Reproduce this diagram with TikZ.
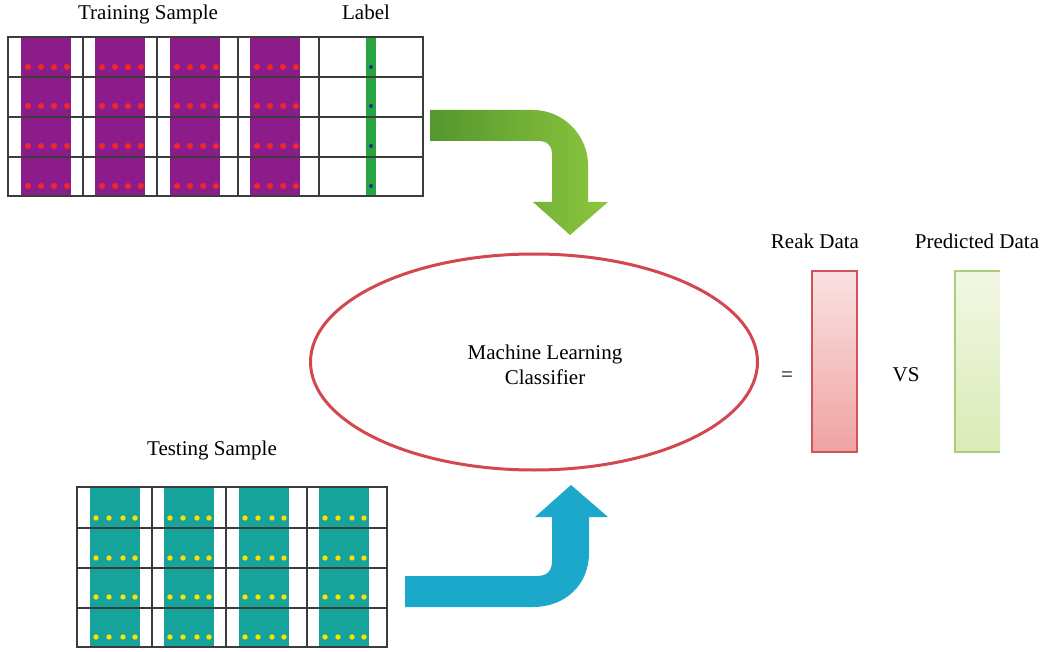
\documentclass[tikz,border=0pt]{standalone}
\usepackage{fontspec}
\setmainfont{Liberation Serif}
\usetikzlibrary{shapes.geometric}
\definecolor{gridc}{RGB}{60,60,60}
\definecolor{purp}{RGB}{139,28,137}
\definecolor{reddot}{RGB}{240,40,45}
\definecolor{labgreen}{RGB}{40,165,65}
\definecolor{bluedot}{RGB}{30,50,140}
\definecolor{tealc}{RGB}{22,163,156}
\definecolor{yel}{RGB}{255,225,0}
\definecolor{arrgA}{RGB}{85,150,45}
\definecolor{arrgB}{RGB}{140,198,62}
\definecolor{arrb}{RGB}{28,168,202}
\definecolor{ellc}{RGB}{210,72,78}
\definecolor{redborder}{RGB}{205,85,90}
\definecolor{redtop}{RGB}{250,226,226}
\definecolor{redbot}{RGB}{240,162,162}
\definecolor{grnborder}{RGB}{170,205,120}
\definecolor{grntop}{RGB}{242,247,228}
\definecolor{grnbot}{RGB}{218,235,182}
\begin{document}
\begin{tikzpicture}[x=1pt,y=-1pt,
  lbl/.style={font=\fontsize{21}{25}\selectfont, inner sep=0pt, anchor=base},
  gridline/.style={draw=gridc, line width=1.3pt},
  bar/.style={minimum width=45pt, minimum height=181pt, inner sep=0pt}]
\useasboundingbox[fill=white] (0,0) rectangle (1046,652);

% ---------- training sample grid ----------
\foreach \x in {21,95,170,250} {
  \fill[purp] (\x,37) rectangle (\x+50,196);
  \foreach \y in {67,106,146,186} {
    \foreach \d in {7,20,33,46} {
      \fill[reddot] (\x+\d,\y) circle (3pt);
    }
  }
}
\fill[labgreen] (366,37) rectangle (376,196);
\foreach \y in {67,106,146,186} { \fill[bluedot] (371,\y) circle (2pt); }
\draw[gridline] (8,37) rectangle (423,196);
\foreach \x in {83,157,238,319} { \draw[gridline] (\x,37) -- (\x,196); }
\foreach \y in {77,117,157} { \draw[gridline] (8,\y) -- (423,\y); }

% ---------- testing sample grid ----------
\foreach \x in {90,164,239,319} {
  \fill[tealc] (\x,487) rectangle (\x+50,647);
  \foreach \y in {518,558,597,637} {
    \foreach \d in {6,19,33,45} {
      \fill[yel] (\x+\d,\y) circle (2.7pt);
    }
  }
}
\draw[gridline] (77,487) rectangle (387,647);
\foreach \x in {152,226,307} { \draw[gridline] (\x,487) -- (\x,647); }
\foreach \y in {528,568,608} { \draw[gridline] (77,\y) -- (387,\y); }

% ---------- labels ----------
\node[lbl] (train) at (148,20) {Training Sample};
\node[lbl] (label) at (366,20) {Label};
\node[lbl] (test) at (212,455) {Testing Sample};
\node[lbl] (reak) at (815,248) {Reak Data};
\node[lbl] (pred) at (977,248) {Predicted Data};
\node[lbl] (eq) at (787,381) {=};
\node[lbl] (vs) at (906,381) {VS};

% ---------- classifier ----------
\node[ellipse, draw=ellc, line width=3pt, minimum width=447pt, minimum height=216pt, inner sep=0pt] (clf) at (534,362) {};
\node[lbl] (ml1) at (545,359) {Machine Learning};
\node[lbl] (ml2) at (545,384) {Classifier};

% ---------- green arrow ----------
\shade[left color=arrgA, right color=arrgB]
  (430,110) -- (533,110) .. controls (563,110) and (588,135) .. (588,165)
  -- (588,202) -- (608,202) -- (570,235) -- (533,202) -- (552,202)
  -- (552,153) .. controls (552,146) and (547,141) .. (540,141)
  -- (430,141) -- cycle;

% ---------- blue arrow ----------
\fill[arrb]
  (405,576) -- (537,576) .. controls (547,576) and (552,571) .. (552,561)
  -- (552,517) -- (535,517) -- (571,485) -- (608,517) -- (589,517)
  -- (589,553) .. controls (589,585) and (565,607) .. (533,607)
  -- (405,607) -- cycle;

% ---------- result bars ----------
\node[bar, draw=redborder, line width=1.5pt, top color=redtop, bottom color=redbot] (realbar) at (834.5,361.5) {};
\node[bar, top color=grntop, bottom color=grnbot] (predbar) at (977.5,361.5) {};
\draw[grnborder, line width=1.5pt] (predbar.north east) -- (predbar.north west) -- (predbar.south west) -- (predbar.south east);
\end{tikzpicture}
\end{document}
